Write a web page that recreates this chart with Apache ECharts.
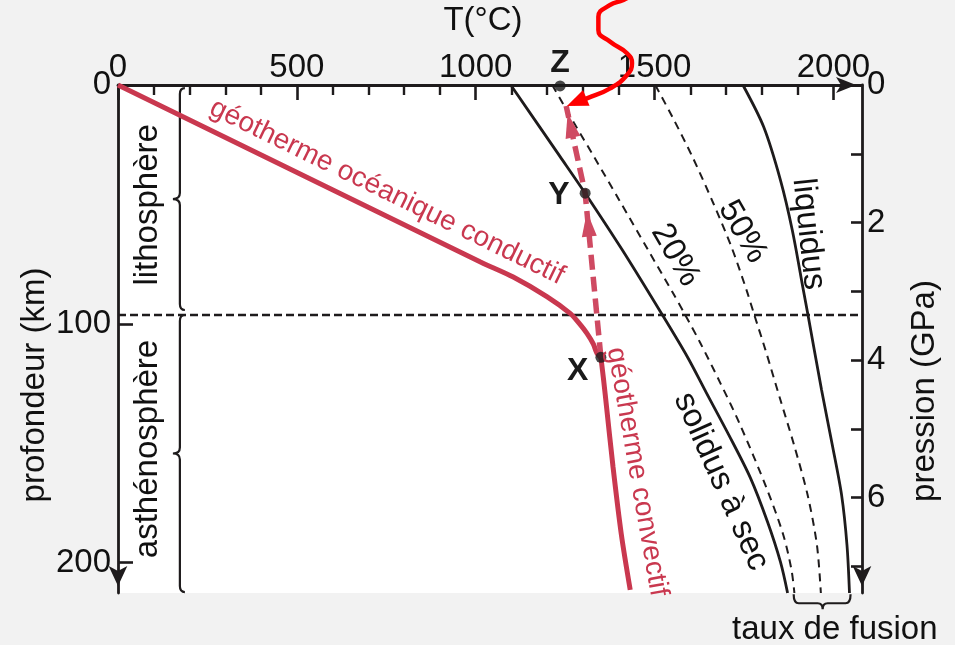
<!DOCTYPE html>
<html>
<head>
<meta charset="utf-8">
<script src="https://cdn.jsdelivr.net/npm/echarts@6/dist/echarts.min.js"></script>
<style>
html,body{margin:0;padding:0;background:#f2f2f2;}
#c{width:955px;height:645px;}
</style>
</head>
<body>
<div id="c"></div>
<script>
// ---------- data (T in °C, depth in km) ----------
const tempTicks = [0, 500, 1000, 1500, 2000];
const tempMinorTicks = [100, 200, 300, 400, 600, 700, 800, 900, 1100, 1200, 1300, 1400, 1600, 1700, 1800, 1900];
const depthTicks = [0, 100, 200];
const pressureTicks = [0, 1, 2, 3, 4, 5, 6, 7];
const pressureLabels = [0, 2, 4, 6];

const conductiveGeotherm = [[0, 0], [1012, 74], [1105, 80.4], [1199, 88.6], [1264, 95.6], [1286, 99.2], [1311, 104], [1329, 108.5], [1339, 112.3], [1350, 114]];
const convectiveGeotherm = [[1350, 114], [1358, 124], [1366, 135], [1384, 160], [1407, 188], [1432, 211.4]];
const drySolidus = [[1098, 0], [1236, 30], [1306, 45.3], [1410, 69.1], [1522, 96.3], [1592, 113.9], [1645, 128.9], [1709, 146.9], [1768, 164.5], [1816, 183], [1852, 199.7], [1872, 212.7]];
const melt20 = [[1214, 0], [1275, 15.9], [1331, 30.1], [1401, 48.1], [1482, 69.1], [1550, 86.7], [1583, 95.5], [1628, 108], [1684, 124.8], [1737, 141.5], [1813, 168.7], [1860, 188.4], [1883, 203.1], [1891, 212.7]];
const melt50 = [[1502, 0], [1550, 13.4], [1606, 30.1], [1664, 49.4], [1715, 67.8], [1757, 85.8], [1779, 96.3], [1810, 110.9], [1852, 131.9], [1890, 150.7], [1928, 171.7], [1954, 192.6], [1965, 212.7]];
const liquidus = [[1747, 0], [1805, 17.5], [1852, 39.8], [1885, 60.7], [1916, 85.8], [1929, 96.3], [1967, 127.7], [1997, 150.7], [2023, 171.7], [2038, 192.6], [2045, 212.7]];
const lithosphereBase = [[0, 96.3], [2080, 96.3]];
const ascentPath = [[1350, 114], [1306, 45.3], [1253, 8.8]];
const ascentArrowHeads = [[1311, 53, 1350, 114], [1257, 11.7, 1306, 45.3]];
const pointsXYZ = [[1350, 114], [1306, 45.3], [1236, 0.4]];
const pointNames = ['X', 'Y', 'Z'];
const meltingArrow = [[1460, -39.8], [1413, -35.6], [1376, -33.5], [1343, -28.6], [1343, -23], [1376, -18.1], [1423, -13.3], [1437, -9.1], [1423, -4.2], [1376, 1.4], [1311, 5.6], [1273, 7.7]];
const meltingArrowHead = [[1255, 8.8, 1300, 6.0]];
const layerBraces = [[173, 1.3, 94.2], [173, 96.3, 212.3]];
const meltRateBracket = [[1889, 2048, 1970, 217]];

// ---------- styles ----------
const FONT = '"Liberation Sans", Arial, Helvetica, sans-serif';
const INK = '#1e1b1c';
const RED = '#c9384f';
const PINK = '#cf4a62';
const BRIGHT = '#ff0000';

const chart = echarts.init(document.getElementById('c'));

function line(data, color, width, type, z, extra) {
  return Object.assign({
    type: 'line', data: data, xAxisIndex: 0, yAxisIndex: 0,
    symbol: 'none', silent: true, z: z, smooth: 0.3,
    lineStyle: {color: color, width: width, type: type, cap: 'butt'}
  }, extra || {});
}

function arrowHeadRender(color, L, W) {
  return function (params, api) {
    const tip = api.coord([api.value(0), api.value(1)]);
    const from = api.coord([api.value(2), api.value(3)]);
    let dx = tip[0] - from[0], dy = tip[1] - from[1];
    const n = Math.hypot(dx, dy); dx /= n; dy /= n;
    const bx = tip[0] - dx * L, by = tip[1] - dy * L;
    return {
      type: 'polygon',
      shape: {points: [tip, [bx - dy * W / 2, by + dx * W / 2], [bx + dy * W / 2, by - dx * W / 2]]},
      style: {fill: color}
    };
  };
}

function braceRender(params, api) {
  const p0 = api.coord([api.value(0), api.value(1)]);
  const p1 = api.coord([api.value(0), api.value(2)]);
  const xs = p0[0], xe = xs + 5, xm = xs - 7;
  const y0 = p0[1], y1 = p1[1], ym = (y0 + y1) / 2;
  const d = 'M' + xe + ',' + y0 + ' Q' + xs + ',' + y0 + ' ' + xs + ',' + (y0 + 6) +
    ' L' + xs + ',' + (ym - 6) + ' Q' + xs + ',' + ym + ' ' + xm + ',' + ym +
    ' Q' + xs + ',' + ym + ' ' + xs + ',' + (ym + 6) +
    ' L' + xs + ',' + (y1 - 6) + ' Q' + xs + ',' + y1 + ' ' + xe + ',' + y1;
  return {type: 'path', shape: {pathData: d}, style: {fill: 'none', stroke: INK, lineWidth: 2.2}};
}

function bracketRender(params, api) {
  const a = api.coord([api.value(0), api.value(3)]);
  const b = api.coord([api.value(1), api.value(3)]);
  const m = api.coord([api.value(2), api.value(3)]);
  const y = a[1];
  const d = 'M' + a[0] + ',' + (y - 9) + ' Q' + a[0] + ',' + y + ' ' + (a[0] + 5) + ',' + y +
    ' L' + (m[0] - 5) + ',' + y + ' Q' + m[0] + ',' + y + ' ' + m[0] + ',' + (y + 6) +
    ' Q' + m[0] + ',' + y + ' ' + (m[0] + 5) + ',' + y +
    ' L' + (b[0] - 5) + ',' + y + ' Q' + b[0] + ',' + y + ' ' + b[0] + ',' + (y - 9);
  return {type: 'path', shape: {pathData: d}, style: {fill: 'none', stroke: INK, lineWidth: 2.2}};
}

const axisLineStyle = {color: INK, width: 2.8};
const plain = function (v) { return String(v); };

chart.setOption({
  animation: false,
  backgroundColor: '#f2f2f2',
  textStyle: {fontFamily: FONT},
  grid: {left: 118, right: 93, top: 85, bottom: 52, show: true, backgroundColor: '#ffffff', borderWidth: 0},
  xAxis: [
    {
      type: 'value', position: 'top', min: 0, max: 2080,
      axisLine: {show: true, onZero: false, lineStyle: axisLineStyle, symbol: ['none', 'arrow'], symbolSize: [12, 20], symbolOffset: [0, -6]},
      axisTick: {show: true, inside: true, length: 15, lineStyle: {color: INK, width: 2.6}, customValues: tempTicks},
      axisLabel: {show: true, customValues: tempTicks, formatter: plain, fontSize: 33, color: '#111', margin: 1, fontFamily: FONT},
      splitLine: {show: false}
    },
    {
      type: 'value', position: 'top', min: 0, max: 2080,
      axisLine: {show: false, onZero: false},
      axisTick: {show: true, inside: true, length: 10, lineStyle: {color: INK, width: 2.4}, customValues: tempMinorTicks},
      axisLabel: {show: false},
      splitLine: {show: false}
    }
  ],
  yAxis: [
    {
      type: 'value', position: 'left', inverse: true, min: 0, max: 212.7,
      axisLine: {show: true, onZero: false, lineStyle: axisLineStyle, symbol: ['arrow', 'none'], symbolSize: [14, 20], symbolOffset: [7, 0]},
      axisTick: {show: true, inside: true, length: 15, lineStyle: {color: INK, width: 2.6}, customValues: depthTicks},
      axisLabel: {show: true, customValues: depthTicks, formatter: plain, fontSize: 33, color: '#111', margin: 7, fontFamily: FONT},
      splitLine: {show: false}
    },
    {
      type: 'value', position: 'right', inverse: true, min: 0, max: 7.388,
      axisLine: {show: true, onZero: false, lineStyle: axisLineStyle, symbol: ['arrow', 'none'], symbolSize: [14, 20], symbolOffset: [7, 0]},
      axisTick: {show: true, inside: true, length: 11, lineStyle: {color: INK, width: 2.6}, customValues: pressureTicks},
      axisLabel: {show: true, customValues: pressureLabels, formatter: plain, fontSize: 33, color: '#111', margin: 5, fontFamily: FONT},
      splitLine: {show: false}
    }
  ],
  series: [
    line(drySolidus, INK, 2.8, 'solid', 2),
    line(melt20, INK, 2.0, [8, 6], 2),
    line(melt50, INK, 2.0, [8, 6], 2),
    line(liquidus, INK, 2.8, 'solid', 2),
    line(lithosphereBase, INK, 2.4, [8, 4], 3, {smooth: false}),
    line(conductiveGeotherm, RED, 5, 'solid', 4),
    line(convectiveGeotherm, RED, 5, 'solid', 4),
    line(ascentPath, PINK, 5.5, [15, 7], 5, {smooth: false}),
    {
      type: 'custom', coordinateSystem: 'cartesian2d', xAxisIndex: 0, yAxisIndex: 0, z: 6, silent: true,
      data: ascentArrowHeads, renderItem: arrowHeadRender(PINK, 25, 15)
    },
    line(meltingArrow, BRIGHT, 4.5, 'solid', 7, {smooth: 0.5, clip: false}),
    {
      type: 'custom', coordinateSystem: 'cartesian2d', xAxisIndex: 0, yAxisIndex: 0, z: 7, silent: true, clip: false,
      data: meltingArrowHead, renderItem: arrowHeadRender(BRIGHT, 21, 17)
    },
    {
      type: 'scatter', data: pointsXYZ, xAxisIndex: 0, yAxisIndex: 0, symbolSize: 11, z: 8, silent: true, clip: false,
      itemStyle: {color: '#1a1a1a'}
    },
    {
      type: 'custom', coordinateSystem: 'cartesian2d', xAxisIndex: 0, yAxisIndex: 0, z: 3, silent: true,
      data: layerBraces, renderItem: braceRender
    },
    {
      type: 'custom', coordinateSystem: 'cartesian2d', xAxisIndex: 0, yAxisIndex: 0, z: 3, silent: true, clip: false,
      data: meltRateBracket, renderItem: bracketRender
    }
  ]
});

// ---------- text annotations ----------
const curveLabels = [
  {text: 'géotherme océanique conductif', at: [752, 44.8], angle: -26, color: RED, size: 28},
  {text: 'géotherme convectif', at: [1451, 162], angle: -80, color: RED, size: 28},
  {text: 'solidus à sec', at: [1686, 166], angle: -66, color: '#111', size: 33},
  {text: '20%', at: [1558, 71.2], angle: -60, color: '#111', size: 33},
  {text: '50%', at: [1746, 61.5], angle: -60, color: '#111', size: 33},
  {text: 'liquidus', at: [1930, 62.4], angle: -84, color: '#111', size: 33},
  {text: 'lithosphère', at: [83, 50.2], angle: 90, color: '#111', size: 33},
  {text: 'asthénosphère', at: [83, 152.4], angle: 90, color: '#111', size: 33},
  {text: 'taux de fusion', at: [2004, 228], angle: 0, color: '#111', size: 33}
];
const pointLabelPos = [[1285, 120], [1233, 46.3], [1236, -9.2]];

const graphics = [];
curveLabels.forEach(function (l) {
  const p = chart.convertToPixel({xAxisIndex: 0, yAxisIndex: 0}, l.at);
  graphics.push({
    type: 'text', x: p[0], y: p[1], rotation: l.angle * Math.PI / 180, z: 20, silent: true,
    style: {text: l.text, fill: l.color, font: l.size + 'px ' + FONT, align: 'center', verticalAlign: 'middle'}
  });
});
pointNames.forEach(function (name, i) {
  const p = chart.convertToPixel({xAxisIndex: 0, yAxisIndex: 0}, pointLabelPos[i]);
  graphics.push({
    type: 'text', x: p[0], y: p[1], z: 20, silent: true,
    style: {text: name, fill: '#1a1a1a', font: 'bold 32px ' + FONT, align: 'center', verticalAlign: 'middle'}
  });
});
// axis titles
graphics.push({type: 'text', x: 483, y: 21, z: 20, silent: true,
  style: {text: 'T(°C)', fill: '#111', font: '33px ' + FONT, align: 'center', verticalAlign: 'middle'}});
graphics.push({type: 'text', x: 35, y: 385, rotation: Math.PI / 2, z: 20, silent: true,
  style: {text: 'profondeur (km)', fill: '#111', font: '33px ' + FONT, align: 'center', verticalAlign: 'middle'}});
graphics.push({type: 'text', x: 925, y: 391, rotation: Math.PI / 2, z: 20, silent: true,
  style: {text: 'pression (GPa)', fill: '#111', font: '33px ' + FONT, align: 'center', verticalAlign: 'middle'}});

chart.setOption({graphic: graphics});
</script>
</body>
</html>
